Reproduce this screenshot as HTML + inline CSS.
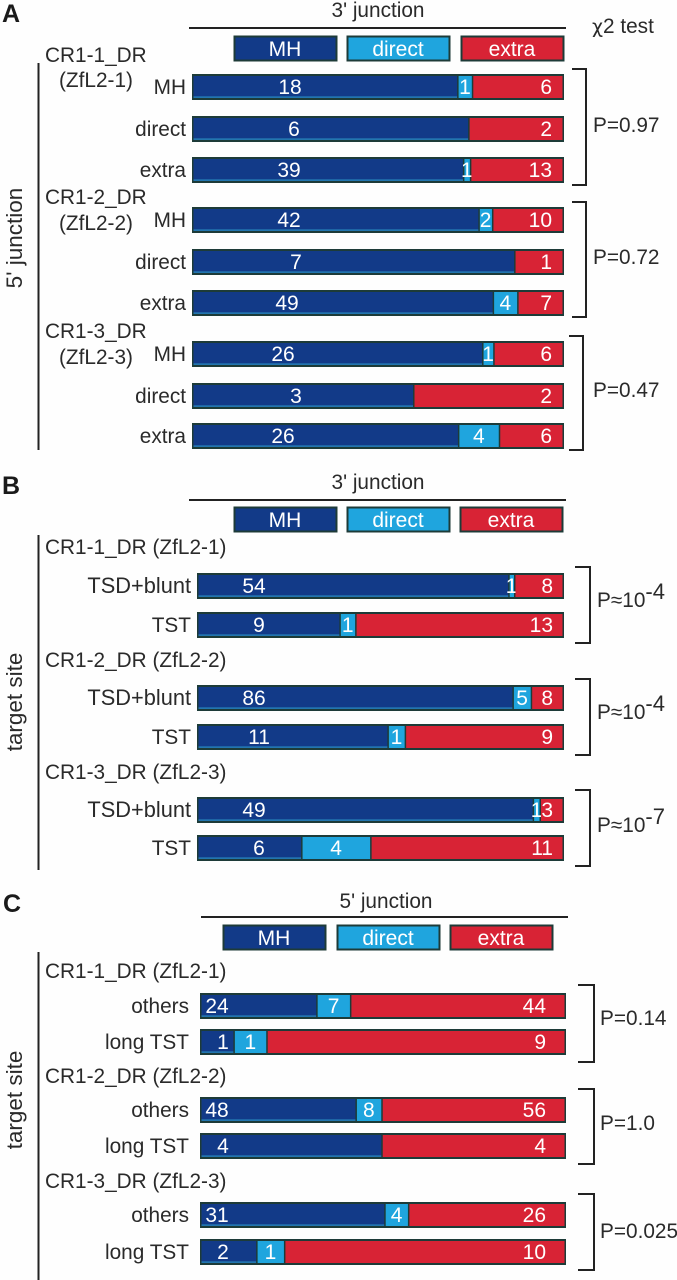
<!DOCTYPE html>
<html lang="en">
<head>
<meta charset="utf-8">
<title>Junction type chart</title>
<style>
html,body{margin:0;padding:0;background:#fff;}
svg{display:block;}
text{font-family:"Liberation Sans",Arial,sans-serif;font-size:20.8px;fill:#2a2a2a;}
.letter{font-size:25px;font-weight:bold;fill:#1a1a1a;}
.v{fill:#fff;font-size:21px;}
.ln{stroke:#222;stroke-width:2;fill:none;}
.yt{font-size:22.5px;}
</style>
</head>
<body>
<svg id="chart" xmlns="http://www.w3.org/2000/svg" width="677" height="1280" viewBox="0 0 677 1280">
  <rect x="0" y="0" width="677" height="1280" fill="#fefefe"/>

  <text class="letter" x="2" y="22">A</text>
  <text class="letter" x="2" y="494">B</text>
  <text class="letter" x="3" y="912">C</text>

  <text x="378" y="17" text-anchor="middle">3' junction</text>
  <text x="378" y="489" text-anchor="middle">3' junction</text>
  <text x="386" y="908" text-anchor="middle">5' junction</text>
  <text x="592" y="33"><tspan font-family="'DejaVu Sans',sans-serif" font-size="19">χ</tspan>2 test</text>

  <line class="ln" x1="189" y1="28" x2="566" y2="28"/>
  <line class="ln" x1="189" y1="500" x2="566" y2="500"/>
  <line class="ln" x1="201" y1="917" x2="568" y2="917"/>

  <line class="ln" x1="38.5" y1="63" x2="38.5" y2="450"/>
  <line class="ln" x1="38.5" y1="535" x2="38.5" y2="870"/>
  <line class="ln" x1="38.5" y1="952" x2="38.5" y2="1280"/>

  <text class="yt" transform="translate(22,238) rotate(-90)" text-anchor="middle">5' junction</text>
  <text class="yt" transform="translate(22,702) rotate(-90)" text-anchor="middle">target site</text>
  <text class="yt" transform="translate(22,1100) rotate(-90)" text-anchor="middle">target site</text>

  <text x="45" y="62">CR1-1_DR</text>
  <text x="59" y="87">(ZfL2-1)</text>
  <text x="45" y="204">CR1-2_DR</text>
  <text x="59" y="230">(ZfL2-2)</text>
  <text x="45" y="338">CR1-3_DR</text>
  <text x="59" y="364">(ZfL2-3)</text>
  <text x="45" y="554">CR1-1_DR (ZfL2-1)</text>
  <text x="45" y="667">CR1-2_DR (ZfL2-2)</text>
  <text x="45" y="779">CR1-3_DR (ZfL2-3)</text>
  <text x="45" y="978">CR1-1_DR (ZfL2-1)</text>
  <text x="45" y="1083">CR1-2_DR (ZfL2-2)</text>
  <text x="45" y="1188">CR1-3_DR (ZfL2-3)</text>

  <path class="ln" d="M572 69H586V185H572"/>
  <path class="ln" d="M572 202H586V317H572"/>
  <path class="ln" d="M569 336H583V450H569"/>
  <path class="ln" d="M575 567H590V643H575"/>
  <path class="ln" d="M575 679H590V755H575"/>
  <path class="ln" d="M575 790H590V866H575"/>
  <path class="ln" d="M578 985H594V1062H578"/>
  <path class="ln" d="M578 1089H594V1164H578"/>
  <path class="ln" d="M578 1194H594V1270H578"/>

  <text x="593" y="132">P=0.97</text>
  <text x="593" y="264">P=0.72</text>
  <text x="593" y="397">P=0.47</text>
  <text x="597" y="607">P≈10<tspan font-size="22" dy="-8">-4</tspan></text>
  <text x="597" y="719">P≈10<tspan font-size="22" dy="-8">-4</tspan></text>
  <text x="597" y="832">P≈10<tspan font-size="22" dy="-8">-7</tspan></text>
  <text x="600" y="1025">P=0.14</text>
  <text x="600" y="1130">P=1.0</text>
  <text x="600" y="1238">P=0.025</text>
</svg>
<script>
// Data: counts
const seriesNames = ['MH', 'direct', 'extra'];
const panelALabels = ['MH', 'direct', 'extra', 'MH', 'direct', 'extra', 'MH', 'direct', 'extra'];
const panelAMH = [18, 6, 39, 42, 7, 49, 26, 3, 26];
const panelADirect = [1, 0, 1, 2, 0, 4, 1, 0, 4];
const panelAExtra = [6, 2, 13, 10, 1, 7, 6, 2, 6];
const panelBLabels = ['TSD+blunt', 'TST', 'TSD+blunt', 'TST', 'TSD+blunt', 'TST'];
const panelBMH = [54, 9, 86, 11, 49, 6];
const panelBDirect = [1, 1, 5, 1, 1, 4];
const panelBExtra = [8, 13, 8, 9, 3, 11];
const panelCLabels = ['others', 'long TST', 'others', 'long TST', 'others', 'long TST'];
const panelCMH = [24, 1, 48, 4, 31, 2];
const panelCDirect = [7, 1, 8, 0, 4, 1];
const panelCExtra = [44, 9, 56, 4, 26, 10];

// Layout (separate from data)
const colors = { MH: '#123a88', direct: '#1fa5de', extra: '#d82335' };
const svgNS = 'http://www.w3.org/2000/svg';
const chart = document.getElementById('chart');
const scaleInset = 2.5;

function add(tag, props) {
  const el = document.createElementNS(svgNS, tag);
  for (const k in props) el.setAttribute(k, props[k]);
  chart.appendChild(el);
  return el;
}

function drawLegend(panelId, y, lefts) {
  seriesNames.forEach(function (name, i) {
    const box = add('rect', { x: lefts[i] + 0.5, y: y + 0.5, width: 102, height: 24, fill: colors[name], stroke: '#1d3b38', 'stroke-width': 2 });
    
    
    const label = add('text', { x: lefts[i] + 51, y: y + 20, 'text-anchor': 'middle', class: 'v' });
    label.textContent = name;
    
    
  });
}

function drawPanel(p) {
  const scale = p.x1 - p.x0;
  p.mh.forEach(function (_, r) {
    const top = p.tops[r];
    const values = [p.mh[r], p.direct[r], p.extra[r]];
    const total = values[0] + values[1] + values[2];
    const xOf = function (v) { return v === total ? p.x1 : p.x0 + (scale - scaleInset) * v / total; };
    const rowName = p.id + '-row-' + (r + 1);

    const rowLabel = add('text', { x: p.labelRight, y: top + 19, 'text-anchor': 'end' });
    rowLabel.textContent = p.labels[r];
    if (p.labels[r] === 'TSD+blunt') { rowLabel.setAttribute('font-size', '21.8'); rowLabel.style.fontSize = '21.8px'; }
    
    

    const frame = add('rect', { x: p.x0 - 1, y: top - 1, width: scale + 2, height: p.h + 2, fill: '#1d3b38' });
    
    

    let cum = 0;
    values.forEach(function (v, s) {
      if (v === 0) { return; }
      const a = xOf(cum);
      const b = xOf(cum + v);
      cum += v;
      const name = seriesNames[s];
      const seg = add('rect', { x: a + (s ? 1 : 0.5), y: top + 1, width: Math.max(b - a - (s ? 1.5 : 1), 1), height: p.h - 2, fill: colors[name] });
      
      
      if (s === 0) {
        const edge = add('rect', { x: a + 0.5, y: top + p.h - 2.5, width: Math.max(b - a - 1, 1), height: 1.2, fill: '#2a8fc0' });
        
        
      }
      let tx = (a + b) / 2;
      let anchor = 'middle';
      if (s === 0) { tx = p.mhLabelX[r]; anchor = p.mhAnchor; }
      if (s === 2) { tx = p.extraRight; anchor = 'end'; }
      const label = add('text', { x: tx, y: top + 19, 'text-anchor': anchor, class: 'v' });
      label.textContent = String(v);
      
      
    });
  });
}

drawLegend('a', 36, [234, 347, 461]);
drawLegend('b', 507, [234, 347, 460]);
drawLegend('c', 925, [223, 337, 450]);

drawPanel({
  id: 'a', x0: 193, x1: 563, h: 24, labelRight: 186, extraRight: 552, mhAnchor: 'middle',
  labels: panelALabels, mh: panelAMH, direct: panelADirect, extra: panelAExtra,
  tops: [75, 117, 158, 208, 250, 291, 342, 384, 424],
  mhLabelX: [290, 294, 289, 289, 296, 287, 283, 296, 283]
});
drawPanel({
  id: 'b', x0: 198, x1: 563, h: 24, labelRight: 191, extraRight: 553, mhAnchor: 'middle',
  labels: panelBLabels, mh: panelBMH, direct: panelBDirect, extra: panelBExtra,
  tops: [574, 613, 686, 725, 798, 836],
  mhLabelX: [254, 259, 254, 259, 254, 259]
});
drawPanel({
  id: 'c', x0: 201, x1: 565, h: 24, labelRight: 189, extraRight: 546, mhAnchor: 'middle',
  labels: panelCLabels, mh: panelCMH, direct: panelCDirect, extra: panelCExtra,
  tops: [994, 1030, 1098, 1134, 1203, 1240],
  mhLabelX: [217, 223, 217, 223, 217, 223]
});
</script>
</body>
</html>
